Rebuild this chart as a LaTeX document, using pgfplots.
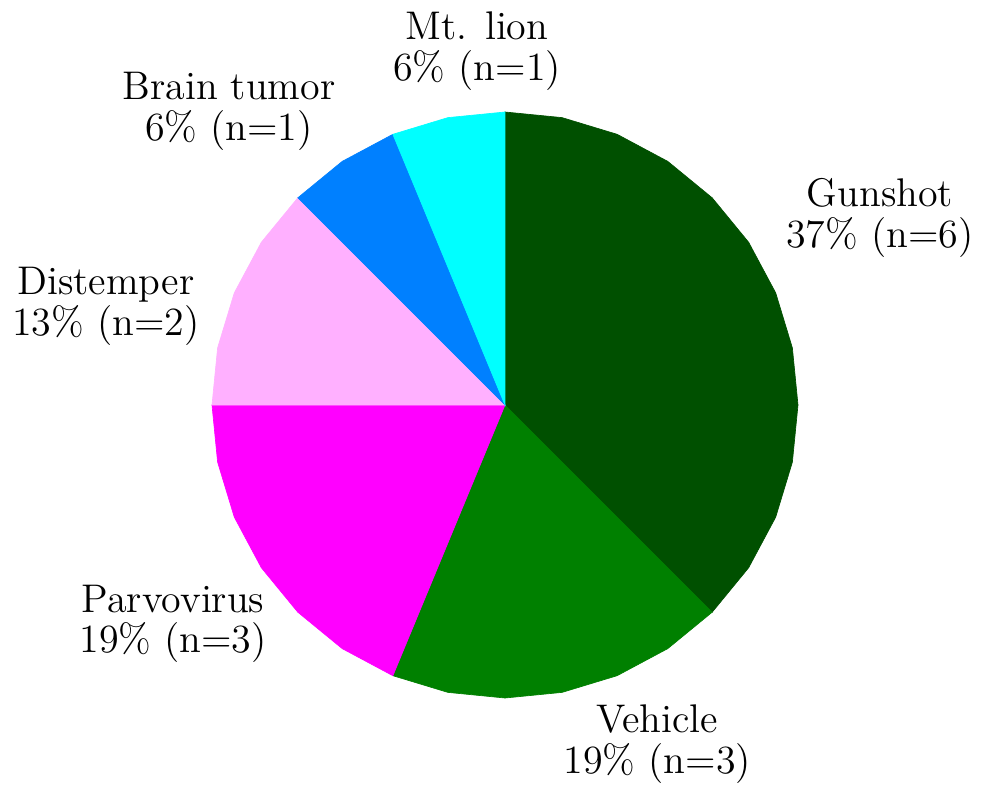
\documentclass[border=0pt]{standalone}
\usepackage{pgfplots}
\usepgfplotslibrary{polar}
\pgfplotsset{compat=1.18}

\definecolor{cGun}{RGB}{0,80,0}
\definecolor{cVeh}{RGB}{0,128,0}
\definecolor{cParvo}{RGB}{255,0,255}
\definecolor{cDist}{RGB}{255,176,255}
\definecolor{cBrain}{RGB}{0,128,255}
\definecolor{cLion}{RGB}{0,255,255}

\begin{document}
\begin{tikzpicture}[lbl/.style={align=center, font=\fontsize{12}{12.2}\selectfont}]
% counts: gunshot 6, vehicle 3, parvovirus 3, distemper 2, brain tumor 1, mt. lion 1 (n=16)
\begin{polaraxis}[hide axis, scale only axis, width=175.8pt, height=175.8pt,
	ymin=0, ymax=1, clip=false]
\addplot[fill=cGun, draw=cGun, line width=0.2pt] coordinates {(0,0) (90,1) (78.75,1) (67.5,1) (56.25,1) (45,1) (33.75,1) (22.5,1) (11.25,1) (0,1) (-11.25,1) (-22.5,1) (-33.75,1) (-45,1)} -- cycle;
\addplot[fill=cVeh, draw=cVeh, line width=0.2pt] coordinates {(0,0) (-45,1) (-56.25,1) (-67.5,1) (-78.75,1) (-90,1) (-101.25,1) (-112.5,1)} -- cycle;
\addplot[fill=cParvo, draw=cParvo, line width=0.2pt] coordinates {(0,0) (-112.5,1) (-123.75,1) (-135,1) (-146.25,1) (-157.5,1) (-168.75,1) (-180,1)} -- cycle;
\addplot[fill=cDist, draw=cDist, line width=0.2pt] coordinates {(0,0) (180,1) (168.75,1) (157.5,1) (146.25,1) (135,1)} -- cycle;
\addplot[fill=cBrain, draw=cBrain, line width=0.2pt] coordinates {(0,0) (135,1) (123.75,1) (112.5,1)} -- cycle;
\addplot[fill=cLion, draw=cLion, line width=0.2pt] coordinates {(0,0) (112.5,1) (101.25,1) (90,1)} -- cycle;

\node[lbl] at (axis cs:94.5,1.212) {Mt. lion\\6\% (n=1)};
\node[lbl] at (axis cs:133.2,1.376) {Brain tumor\\6\% (n=1)};
\node[lbl] at (axis cs:26.5,1.430) {Gunshot\\37\% (n=6)};
\node[lbl] at (axis cs:166.1,1.403) {Distemper\\13\% (n=2)};
\node[lbl] at (axis cs:213.4,1.357) {Parvovirus\\19\% (n=3)};
\node[lbl] at (axis cs:294.2,1.268) {Vehicle\\19\% (n=3)};
\coordinate (c) at (axis cs:0,0);
\end{polaraxis}
\pgfresetboundingbox
\path (c) ++(-151.5pt,-116.7pt) rectangle ++(294.6pt,238.2pt);
\end{tikzpicture}
\end{document}
